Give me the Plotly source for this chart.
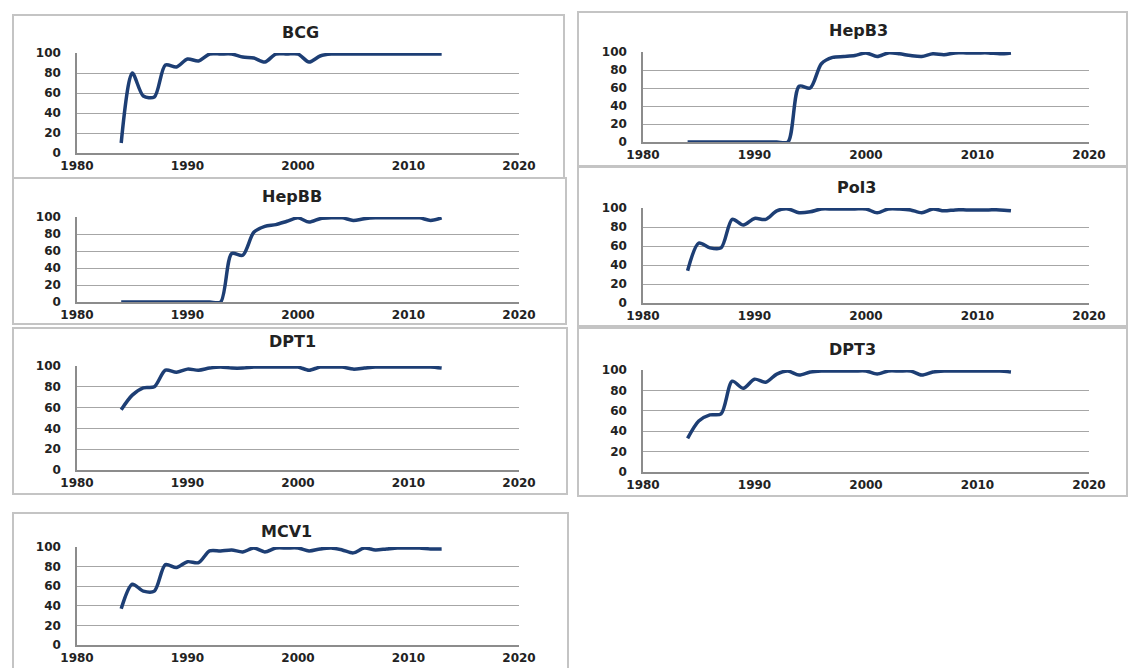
import plotly.graph_objects as go

W, H = 1128, 668

years = [1984, 1985, 1986, 1987, 1988, 1989, 1990, 1991, 1992, 1993,
         1994, 1995, 1996, 1997, 1998, 1999, 2000, 2001, 2002, 2003,
         2004, 2005, 2006, 2007, 2008, 2009, 2010, 2011, 2012, 2013]

bcg = [10, 80, 57, 56, 88, 86, 94, 92, 99, 99, 99, 96, 95, 91, 99, 99, 99, 91, 97, 99,
       99, 99, 99, 99, 99, 99, 99, 99, 99, 99]
hepb3 = [0, 0, 0, 0, 0, 0, 0, 0, 0, 0, 62, 60, 87, 94, 95, 96, 99, 95, 99, 98,
         96, 95, 98, 97, 99, 99, 99, 99, 98, 99]
hepbb = [0, 0, 0, 0, 0, 0, 0, 0, 0, 0, 57, 55, 82, 89, 91, 95, 99, 94, 98, 99,
         99, 96, 98, 99, 99, 99, 99, 99, 96, 99]
pol3 = [34, 63, 58, 58, 88, 82, 89, 88, 97, 99, 95, 96, 99, 99, 99, 99, 99, 95, 99, 99,
        98, 95, 99, 97, 98, 98, 98, 98, 98, 97]
dpt1 = [58, 72, 79, 80, 96, 94, 97, 96, 98, 99, 98, 98, 99, 99, 99, 99, 99, 96, 99, 99,
        99, 97, 98, 99, 99, 99, 99, 99, 99, 98]
dpt3 = [33, 50, 56, 57, 89, 82, 91, 88, 96, 99, 95, 98, 99, 99, 99, 99, 99, 96, 99, 99,
        99, 95, 98, 99, 99, 99, 99, 99, 99, 98]
mcv1 = [37, 62, 55, 55, 82, 79, 85, 84, 96, 96, 97, 95, 99, 95, 99, 99, 99, 96, 98, 99,
        97, 94, 99, 97, 98, 99, 99, 99, 98, 98]

titles = ["BCG", "HepB3", "HepBB", "Pol3", "DPT1", "DPT3", "MCV1"]
series = [bcg, hepb3, hepbb, pol3, dpt1, dpt3, mcv1]

x_ticks = [1980, 1990, 2000, 2010, 2020]
y_ticks = [0, 20, 40, 60, 80, 100]

# layout in pixels: plot x0, x1, y(100), y(0), box, title position
LEFT = (77, 519)
RIGHT = (643, 1089)
panels = [
    dict(xs=LEFT, y100=53, y0=153, box=(13, 15, 564, 178), ty=32, tx=300),
    dict(xs=RIGHT, y100=52, y0=142, box=(578, 12, 1127, 166), ty=31, tx=858),
    dict(xs=LEFT, y100=217, y0=302, box=(13, 178, 566, 324), ty=197, tx=292),
    dict(xs=RIGHT, y100=208, y0=303, box=(578, 167, 1127, 326), ty=187, tx=856),
    dict(xs=LEFT, y100=366, y0=470, box=(13, 328, 567, 494), ty=341, tx=292),
    dict(xs=RIGHT, y100=370, y0=472, box=(578, 328, 1127, 496), ty=349, tx=852),
    dict(xs=LEFT, y100=547, y0=645, box=(13, 513, 568, 690), ty=531, tx=286),
]

LINE = "#1d3e74"
GRID = "#a6a6a6"
TICKFONT = dict(family="DejaVu Sans", size=12, color="#222222", weight="bold")

fig = go.Figure()
layout = dict(template="none", width=W, height=H,
              margin=dict(l=0, r=0, t=0, b=0, autoexpand=False),
              paper_bgcolor="white", plot_bgcolor="white", showlegend=False,
              shapes=[], annotations=[])

def fx(p):
    return p / W

def fy(p):
    return 1 - p / H

for i, (p, t, vals) in enumerate(zip(panels, titles, series)):
    n = "" if i == 0 else str(i + 1)
    fig.add_trace(go.Scatter(x=years, y=vals, mode="lines",
                             line=dict(color=LINE, width=3.5, shape="spline", smoothing=0.8),
                             xaxis="x" + n, yaxis="y" + n, hoverinfo="skip"))
    layout["xaxis" + n] = dict(domain=[fx(p["xs"][0]), fx(p["xs"][1])], range=[1980, 2020],
                               tickvals=x_ticks, anchor="y" + n, showgrid=False, zeroline=False,
                               showline=True, linecolor="#8c8c8c", linewidth=1.5,
                               ticks="outside", ticklen=1, tickcolor="rgba(0,0,0,0)",
                               tickfont=TICKFONT, fixedrange=True, automargin=False)
    layout["yaxis" + n] = dict(domain=[fy(p["y0"]), fy(p["y100"])], range=[0, 100],
                               tickvals=y_ticks, anchor="x" + n, showgrid=True,
                               gridcolor=GRID, gridwidth=1, zeroline=False,
                               showline=True, linecolor="#8c8c8c", linewidth=1.5,
                               ticks="outside", ticklen=12, tickcolor="rgba(0,0,0,0)",
                               tickfont=TICKFONT, fixedrange=True, automargin=False)
    bx0, by0, bx1, by1 = p["box"]
    layout["shapes"].append(dict(type="rect", xref="paper", yref="paper",
                                 x0=fx(bx0), x1=fx(bx1), y0=fy(by1), y1=fy(by0),
                                 line=dict(color="#c4c4c4", width=2), layer="below"))
    layout["annotations"].append(dict(text=t, xref="paper", yref="paper",
                                      x=fx(p["tx"]), y=fy(p["ty"]), xanchor="center",
                                      yanchor="middle", showarrow=False,
                                      font=dict(family="DejaVu Sans", size=16,
                                                color="#222222", weight="bold")))

fig.update_layout(**layout)
fig.write_html("out.html", config={"displayModeBar": False},
               post_script="document.body.style.margin='0';document.body.style.overflow='hidden';")
